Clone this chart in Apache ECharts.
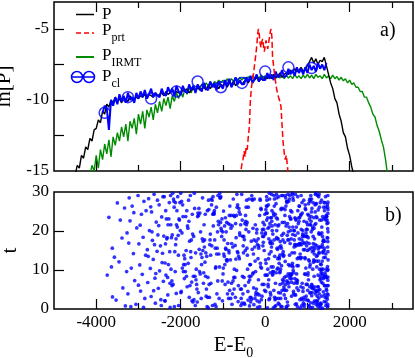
<!DOCTYPE html>
<html>
<head>
<meta charset="utf-8">
<title>ln[P] and t versus E-E0</title>
<script src="https://cdn.jsdelivr.net/npm/echarts@6.0.0/dist/echarts.min.js"></script>
<style>
  html, body { margin: 0; padding: 0; background: #ffffff; }
  #myChart { width: 415px; height: 358px; }
</style>
</head>
<body>
<div id="myChart"></div>
<script>
// energy grid (E-E0) shared by the P curves of panel a)
var energyGrid = [
  -4500,-4450,-4400,-4350,-4300,-4250,-4200,-4150,-4100,-4050,
  -4000,-3950,-3900,-3850,-3800,-3750,-3700,-3650,-3600,-3550,
  -3500,-3450,-3400,-3350,-3300,-3250,-3200,-3150,-3100,-3050,
  -3000,-2950,-2900,-2850,-2800,-2750,-2700,-2650,-2600,-2550,
  -2500,-2450,-2400,-2350,-2300,-2250,-2200,-2150,-2100,-2050,
  -2000,-1950,-1900,-1850,-1800,-1750,-1700,-1650,-1600,-1550,
  -1500,-1450,-1400,-1350,-1300,-1250,-1200,-1150,-1100,-1050,
  -1000,-950,-900,-850,-800,-750,-700,-650,-600,-550,
  -500,-450,-400,-350,-300,-250,-200,-150,-100,-50,
  0,50,100,150,200,250,300,350,400,450,
  500,550,600,650,700,750,800,850,900,950,
  1000,1050,1100,1150,1200,1250,1300,1350,1400,1450,
  1500,1550,1600,1650,1700,1750,1800,1850,1900,1950,
  2000,2050,2100,2150,2200,2250,2300,2350,2400,2450,
  2500,2550,2600,2650,2700,2750,2800,2850,2900
];

// ln[P] (black)
var lnP = [
  -15.3,-14.6,-14.8,-13.9,-14.1,-13.3,-13.5,-12.7,-12.9,-12.1,
  -12.0,-11.4,-11.6,-10.8,-11.0,-10.3,-10.5,-10.0,-10.2,-9.8,
  -10.1,-9.9,-10.2,-9.8,-10.0,-10.1,-9.7,-10.0,-9.9,-9.8,
  -9.9,-9.7,-9.8,-9.6,-9.9,-9.6,-9.7,-9.8,-9.5,-9.7,
  -9.6,-9.5,-9.7,-9.4,-9.6,-9.5,-9.3,-9.6,-9.4,-9.5,
  -9.5,-9.3,-9.4,-9.2,-9.5,-9.3,-9.2,-9.4,-9.1,-9.3,
  -9.2,-9.1,-9.3,-9.0,-9.2,-8.9,-9.1,-9.0,-9.2,-8.9,
  -9.0,-8.8,-9.1,-8.8,-8.9,-8.7,-9.0,-8.8,-8.7,-8.9,
  -8.7,-8.6,-8.8,-8.5,-8.7,-8.6,-8.4,-8.7,-8.5,-8.6,
  -8.4,-8.5,-8.3,-8.5,-8.2,-8.4,-8.3,-8.1,-8.4,-8.2,
  -8.1,-8.2,-7.9,-8.1,-7.8,-8.0,-7.9,-7.7,-8.0,-7.8,
  -7.6,-7.3,-7.0,-7.4,-7.1,-7.5,-7.2,-7.3,-7.0,-7.6,
  -8.2,-8.8,-9.2,-9.9,-10.2,-11.0,-11.5,-12.3,-12.6,-13.4,
  -13.9,-14.7,-15.3,null,null,null,null,null,null,null,
  null,null,null,null,null,null,null,null,null
];

// ln[P_IRMT] (green)
var lnIRMT = [
  null,null,null,null,null,null,null,-15.3,-14.6,-15.0,
  -13.9,-14.8,-13.5,-14.2,-13.1,-13.8,-12.8,-14.0,-12.6,-13.2,
  -12.3,-12.9,-11.9,-12.6,-11.7,-12.9,-11.5,-12.0,-11.3,-12.4,
  -11.0,-11.7,-10.8,-12.0,-10.7,-11.2,-10.5,-11.4,-10.3,-10.9,
  -10.1,-10.8,-9.9,-10.4,-9.8,-10.6,-9.7,-10.1,-9.5,-9.9,
  -9.4,-9.8,-9.2,-9.6,-9.1,-9.5,-9.0,-9.3,-8.9,-9.2,
  -8.9,-9.1,-8.8,-9.0,-8.7,-8.95,-8.7,-8.85,-8.6,-8.8,
  -8.6,-8.8,-8.5,-8.75,-8.5,-8.7,-8.45,-8.65,-8.4,-8.6,
  -8.4,-8.6,-8.35,-8.55,-8.3,-8.5,-8.3,-8.5,-8.25,-8.45,
  -8.3,-8.5,-8.25,-8.45,-8.3,-8.5,-8.25,-8.45,-8.3,-8.5,
  -8.25,-8.45,-8.3,-8.5,-8.2,-8.45,-8.3,-8.5,-8.25,-8.45,
  -8.2,-8.45,-8.25,-8.5,-8.2,-8.4,-8.3,-8.5,-8.2,-8.45,
  -8.3,-8.5,-8.25,-8.5,-8.35,-8.6,-8.4,-8.65,-8.5,-8.8,
  -8.6,-8.9,-8.8,-9.1,-9.1,-9.4,-9.4,-9.8,-9.8,-10.2,
  -10.5,-11.0,-11.2,-11.8,-12.2,-12.8,-13.3,-14.2,-15.3
];

// ln[P_cl] (blue)
var lnCl = [
  null,null,null,null,null,null,null,null,null,null,
  null,null,null,-10.9,-10.4,-10.6,-12.1,-10.0,-10.4,-9.8,
  -10.3,-9.6,-10.1,-9.7,-10.2,-9.5,-10.0,-9.8,-10.2,-9.5,
  -9.9,-9.4,-9.8,-9.3,-9.9,-9.6,-9.2,-9.8,-9.5,-9.7,
  -9.8,-9.2,-9.6,-9.7,-9.1,-9.5,-9.2,-9.7,-9.0,-9.4,
  -9.6,-9.0,-9.4,-9.5,-8.9,-9.3,-9.0,-9.5,-8.9,-9.2,
  -9.4,-8.8,-9.2,-9.3,-8.7,-9.1,-8.8,-9.3,-8.7,-9.0,
  -9.2,-8.6,-9.0,-8.5,-9.1,-8.8,-8.4,-8.9,-8.6,-8.9,
  -8.9,-8.4,-8.7,-8.3,-8.8,-8.5,-8.2,-8.7,-8.4,-8.6,
  -8.6,-8.1,-8.5,-8.2,-8.6,-8.0,-8.4,-8.3,-7.9,-8.4,
  -8.3,-7.8,-8.2,-7.9,-8.3,-7.7,-8.1,-7.8,-8.2,-7.7,
  -8.1,-7.5,-7.9,-7.6,-8.0,-7.4,-7.8,-7.5,-7.9,-7.4,
  null,null,null,null,null,null,null,null,null,null,
  null,null,null,null,null,null,null,null,null,null,
  null,null,null,null,null,null,null,null,null
];

// circle markers on P_cl
var clMarkE = [-3800, -3250, -2700, -2100, -1600, -1050, -550, 0, 550, 1100];
var clMarkLn = [-10.9, -9.8, -9.9, -9.4, -8.7, -9.1, -8.8, -8.0, -7.7, -7.75];

// ln[P_prt] (red, dashed)
var prtE = [
  -600,-575,-550,-525,-500,-475,-450,-425,-400,-375,-350,-325,-300,-275,-250,-225,-200,-175,
  -160,-140,-120,-100,-80,-60,-40,-20,0,20,40,60,80,100,120,140,160,
  175,200,225,250,275,300,325,350,375,400,425,450,475,500,525,550
];
var lnPrt = [
  -15.5,-15.0,-14.5,-14.2,-13.6,-14.0,-13.3,-13.5,-12.6,-11.9,-10.0,-9.1,-8.6,-8.1,-7.5,-6.9,-6.2,-5.3,
  -5.0,-5.4,-6.0,-6.3,-5.9,-5.7,-6.2,-6.6,-6.2,-5.8,-6.1,-6.4,-6.0,-5.6,-5.2,-5.0,-5.6,
  -7.0,-7.6,-8.3,-8.8,-9.3,-9.6,-9.9,-10.1,-10.5,-11.8,-13.0,-13.7,-14.2,-13.9,-14.6,-15.4
];

// panel b): events as (E-E0, t) pairs
var eventsFar = [
  -3740,8.7, -3700,23.5, -3640,10.8, -3620,15.6, -3615,3.1, -3570,13.3, -3530,2.3, -3500,27.2, -3460,12.1, -3430,22.8,
  -3390,18.2, -3370,5.4, -3330,25.9, -3310,0.8,
  -3280,9.6, -3270,19.5, -3250,3.9, -3230,16.9, -3220,28.5, -3200,22.6, -3180,0.6, -3170,10.5, -3150,26.4, -3120,14.2,
  -3110,24.7, -3090,7.3, -3060,1.2, -3040,20.8, -3010,29.1, -3000,6.1, -2990,16.7, -2970,11.3, -2960,21.5, -2950,4.6,
  -2930,24.3, -2910,8.9, -2890,18.4, -2880,0.4, -2870,27.6, -2850,2.7, -2830,13.8, -2820,25.2,
  -2790,15.2, -2780,6.8, -2770,13.5, -2760,28.3, -2740,20.1, -2720,10.4, -2710,26.2, -2700,3.2, -2690,24.9, -2680,19.8,
  -2670,17.6, -2650,12.7, -2640,4.7, -2630,29.4, -2620,16.5, -2610,7.9, -2600,1.5, -2590,9.1, -2580,22.3, -2560,14.8,
  -2550,27.9, -2540,19.0, -2530,5.3, -2520,21.4, -2510,26.7, -2500,9.8, -2480,16.2, -2470,2.4, -2460,0.9, -2450,23.6,
  -2440,11.9, -2430,14.3, -2420,28.8, -2410,7.1, -2400,18.7,
  -2390,28.8, -2380,2.1, -2370,11.8, -2365,2.1, -2360,16.7, -2355,25.2, -2350,8.7, -2340,23.1, -2330,18.0, -2320,18.3,
  -2310,8.1, -2305,3.6, -2300,21.6, -2290,11.4, -2280,23.1, -2270,27.3, -2260,14.7, -2255,6.6, -2250,0.4, -2240,29.1,
  -2235,21.6, -2230,10.2, -2220,18.3, -2210,7.2, -2205,6.0, -2200,19.0, -2190,29.7, -2180,6.3, -2170,28.2, -2160,27.6,
  -2155,26.1, -2150,0.6, -2140,14.7, -2130,9.6, -2125,27.3, -2120,16.5, -2110,18.0, -2105,4.0, -2100,21.6, -2090,25.2,
  -2080,21.0, -2070,28.8, -2060,18.9, -2055,13.8, -2050,0.9, -2040,23.1, -2030,22.8, -2020,27.3, -2010,20.1, -2000,29.7
];
var eventsMid = [
  -1995,4.2, -1987,4.5, -1979,27.6, -1970,19.5, -1962,10.5, -1955,26.7, -1946,23.7, -1937,9.6, -1930,11.4, -1921,13.8,
  -1913,7.8, -1905,12.9, -1896,11.4, -1889,9.6, -1880,23.7, -1872,15.0, -1864,8.4, -1855,25.2, -1847,5.7, -1839,21.3,
  -1830,20.7, -1822,11.7, -1814,27.9, -1805,22.5, -1797,3.0, -1789,17.4, -1780,6.0, -1772,29.1, -1764,14.7, -1756,13.2,
  -1748,17.7, -1740,6.9, -1733,2.1, -1725,24.3, -1717,19.2, -1709,1.8, -1701,8.4, -1694,18.6, -1686,2.4, -1678,29.7,
  -1670,25.8, -1662,8.4, -1655,0.9, -1647,14.4, -1639,7.5, -1631,10.2, -1623,6.3, -1616,5.1, -1608,1.8, -1600,23.7,
  -1592,24.6, -1584,4.2, -1577,24.0, -1569,25.8, -1561,15.3, -1553,9.6, -1545,24.6, -1538,9.0, -1530,19.8, -1522,14.1,
  -1514,2.7, -1506,11.4,
  -1497,13.2, -1490,18.0, -1483,28.5, -1476,15.0, -1469,17.4, -1462,6.6, -1455,9.3, -1447,21.6, -1440,15.9, -1433,17.7,
  -1426,12.0, -1419,24.3, -1412,8.4, -1405,14.4, -1398,3.3, -1391,5.1, -1383,13.5, -1376,0.6, -1369,25.2, -1362,3.0,
  -1355,8.1, -1348,0.3, -1341,27.9, -1334,25.5, -1327,6.3, -1320,3.0, -1312,16.5, -1305,17.7, -1298,19.2, -1291,13.8,
  -1284,6.6, -1277,28.2, -1270,26.7, -1263,16.2, -1256,27.9,
  -1248,0.9, -1241,24.3, -1235,28.8, -1228,21.3, -1222,24.6, -1215,24.3, -1208,24.6, -1202,25.2, -1195,17.7, -1189,1.2,
  -1182,15.6, -1176,10.5, -1169,10.8, -1162,0.6, -1156,26.1, -1149,14.1, -1143,3.9, -1136,15.6, -1129,19.8, -1123,7.2,
  -1116,29.1, -1110,22.5, -1103,21.6, -1096,14.1, -1090,2.7, -1083,10.8, -1077,29.7, -1070,28.5, -1063,28.5, -1057,22.2,
  -1050,28.8, -1044,20.7, -1037,20.1, -1030,18.6, -1024,23.1, -1017,7.2, -1011,2.1, -1004,19.8,
  -998,9.0, -992,10.5, -986,25.1, -980,14.1, -973,17.7, -967,13.5, -961,21.3, -955,11.4, -948,6.3, -942,23.4,
  -936,15.6, -930,15.3, -923,19.8, -917,12.6, -911,22.2, -905,12.3, -898,12.6, -892,3.9, -886,16.8, -880,6.9,
  -873,21.9, -867,2.7, -861,15.0, -855,14.4, -848,24.0, -842,4.8, -836,26.4, -830,21.6, -823,12.6, -817,2.7,
  -811,20.7, -805,24.0, -798,6.6, -792,16.8, -786,1.2, -780,21.3, -773,3.9, -767,15.9, -761,7.2, -755,28.2,
  -748,24.0, -742,8.1, -736,5.1, -730,10.2, -724,23.7, -718,8.1, -712,16.3, -706,3.0, -700,21.9, -694,12.8,
  -688,18.3, -682,24.0, -676,9.9, -670,29.4, -664,26.1, -658,14.7, -652,26.7, -646,14.4, -640,1.9, -634,6.0,
  -628,13.5, -622,25.8, -616,24.9, -610,12.9, -604,19.5, -598,18.9, -592,24.3, -586,5.1, -580,21.6, -574,0.9,
  -568,2.7, -562,5.1, -556,29.4, -550,1.5, -544,22.8, -538,8.4, -532,18.6, -526,3.9, -520,16.2, -514,14.4,
  -508,18.6, -502,8.1,
  -498,1.5, -493,17.8, -487,1.2, -482,21.9, -476,6.0, -471,15.0, -465,24.0, -460,22.5, -454,20.4, -449,26.1,
  -443,21.6, -438,27.9, -432,15.6, -427,22.2, -421,13.8, -416,10.2, -410,4.5, -405,2.3, -399,26.1, -394,6.9,
  -388,19.8, -383,28.2, -377,8.4, -372,0.8, -366,7.5, -361,11.4, -355,3.0, -350,11.4, -344,1.8, -339,8.4,
  -333,2.9, -328,17.4, -322,2.5, -317,29.1, -311,28.2, -306,15.3, -300,27.9, -295,9.0, -289,20.7, -284,9.3,
  -278,14.1, -273,5.4, -267,1.1, -262,17.7, -256,28.2,
  -248,15.9, -243,2.7, -238,12.3, -233,21.6, -227,9.6, -222,3.6, -217,4.2, -212,17.4, -206,5.1, -201,19.5,
  -196,20.4, -191,2.1, -185,16.5, -180,0.4, -175,3.9, -170,12.9, -164,18.0, -159,7.5, -154,15.6, -149,16.2,
  -143,3.6, -138,1.8, -133,24.0, -128,0.6, -122,28.2, -117,27.9, -112,11.7, -107,10.8,
  -101,25.8, -96,25.5, -91,2.4, -86,10.5, -80,19.5, -75,3.3, -70,6.3, -65,20.4, -59,18.6, -54,16.2,
  -49,22.2, -44,17.1, -38,18.6, -33,20.4, -28,6.3, -23,15.0, -17,21.6, -12,4.8, -7,24.3, -2,8.7
];
var eventsNear = [
  2,19.2, 6,19.5, 9,12.6, 13,4.5, 16,25.5, 20,11.7, 23,8.7, 27,24.6, 30,26.4, 34,28.8,
  37,22.8, 41,27.9, 44,26.4, 48,24.6, 51,8.7, 55,0.3, 58,23.4, 62,10.2, 65,20.7, 69,6.3,
  72,5.7, 76,26.7, 79,12.9, 83,7.5, 86,18.0, 90,2.4, 93,21.0, 97,14.1, 100,29.7, 104,28.2,
  107,2.7, 111,21.9, 114,17.1, 118,9.3, 121,4.2, 125,16.8, 128,23.4, 132,3.6, 135,17.4, 139,14.7,
  142,10.8, 146,23.4, 149,15.9, 153,29.4, 156,22.5, 160,25.2, 163,21.3, 167,20.1, 170,16.8, 174,8.7,
  177,9.6, 181,19.2, 184,9.0, 188,10.8, 191,0.3, 195,24.6, 198,9.6, 202,24.0, 205,4.8, 209,29.1,
  212,17.7, 216,26.4, 219,28.2, 223,3.0, 226,13.5, 230,0.6, 233,2.4, 237,21.6, 240,24.3, 244,6.6,
  251,0.9, 254,2.7, 257,27.0, 261,9.3, 264,23.4, 267,29.4, 271,18.3, 274,20.1, 277,28.5, 281,15.6,
  284,10.2, 287,18.0, 291,23.1, 294,15.3, 297,12.9, 301,10.5, 304,21.3, 307,18.0, 311,1.5, 314,2.7,
  317,4.2, 321,28.8, 324,21.6, 327,13.2, 331,11.7, 334,1.2, 337,12.9, 341,15.9, 344,9.3, 347,13.8,
  351,6.3, 354,9.6, 357,17.3, 361,4.1, 364,10.2, 367,2.7, 371,16.2, 374,0.6, 377,25.5, 381,25.8,
  384,15.6, 387,11.1, 391,29.1, 394,18.9, 397,0.6, 401,4.8, 404,22.2, 407,14.1, 411,7.5, 414,6.6,
  417,29.1, 421,17.7, 424,25.8, 427,14.7, 431,13.5, 434,19.4, 437,7.2, 441,13.8, 444,5.7, 447,5.1,
  451,3.6, 454,8.1, 457,22.2, 461,17.1, 464,4.8, 467,24.0, 471,25.5, 474,12.2, 477,29.1, 481,2.7,
  484,28.5, 487,6.3, 491,26.4, 494,21.3, 497,8.4,
  501,0.6, 504,0.3, 507,4.8, 510,27.6, 513,7.2, 516,27.3, 520,27.6, 523,18.9, 526,1.8, 529,21.9,
  532,6.9, 535,17.7, 538,0.9, 541,29.4, 545,9.0, 548,19.8, 551,11.4, 554,6.6, 557,27.6, 560,17.7,
  563,5.7, 566,21.0, 570,8.4, 573,28.2, 576,13.8, 579,23.7, 582,11.1, 585,29.1, 588,7.8, 591,16.8,
  595,9.0, 598,23.1, 601,20.1, 604,25.2, 607,8.7, 610,23.1, 613,8.7, 616,18.0, 620,6.9, 623,7.8,
  626,3.3, 629,9.0, 632,24.9, 635,14.4, 638,11.1, 641,29.7, 645,11.7, 648,29.4, 651,19.1, 654,21.0,
  657,28.5, 660,10.8, 663,9.9, 666,27.9, 670,4.5, 673,3.9, 676,9.3, 679,20.1, 682,6.6, 685,15.9,
  688,17.7, 691,20.1, 695,14.4, 698,16.5, 701,7.8, 704,23.4, 707,3.6, 710,18.9, 713,1.2, 716,29.4,
  720,3.6, 723,23.1, 726,16.5, 729,22.8, 732,16.2, 735,6.9, 738,21.0, 741,1.3, 745,9.0, 748,7.5,
  751,5.4, 754,11.1, 757,6.6, 760,12.9, 763,0.6, 766,7.2, 770,28.8, 773,25.2, 776,19.5, 779,16.5,
  782,11.1, 785,21.9, 788,4.8, 791,13.2, 795,23.4, 798,16.5, 801,22.5, 804,26.4, 807,18.0, 810,26.4,
  813,16.8, 816,23.4, 820,16.5, 823,2.4, 826,16.8, 829,14.1, 832,13.2, 835,0.3, 838,12.9, 841,24.0,
  845,5.7, 848,24.3, 851,29.1, 854,20.4, 857,16.5, 860,2.7, 863,13.2, 866,0.9, 870,17.7, 873,27.3,
  876,6.6, 879,24.6, 882,18.6, 885,19.2, 888,2.4, 891,20.1, 895,4.5, 898,5.4, 901,17.1, 904,1.5,
  907,15.2, 910,18.9, 913,27.9, 916,3.0, 920,22.5, 923,0.6, 926,1.2, 929,18.6, 932,16.8, 935,9.0,
  938,15.2, 941,13.2, 945,12.9, 948,26.7, 951,25.8, 954,8.9, 957,25.5, 960,2.4, 963,10.5, 966,19.5,
  970,3.3, 973,6.3, 976,20.4, 979,18.6, 982,16.2, 985,22.2, 988,17.1, 991,18.6, 995,20.4, 998,6.3,
  1001,15.0, 1004,21.6, 1007,4.8, 1010,24.3, 1013,8.7, 1016,9.3, 1019,18.3, 1022,2.1, 1025,7.5, 1028,27.0,
  1030,12.6, 1033,24.0, 1036,0.9, 1039,15.3, 1042,16.8, 1045,12.3, 1048,23.1, 1051,27.9, 1054,5.7, 1057,10.8,
  1060,28.2, 1063,21.6, 1066,11.4, 1069,27.6, 1072,0.3, 1075,4.2, 1077,21.6, 1080,29.1, 1083,15.6, 1086,22.5,
  1089,19.8, 1092,23.7, 1095,24.9, 1098,28.2, 1101,6.3, 1104,5.4, 1107,25.8, 1110,6.0, 1113,4.2, 1116,14.7,
  1119,20.4, 1122,5.4, 1125,21.0, 1127,10.2, 1130,15.9, 1133,27.3, 1136,18.6, 1139,16.8, 1142,12.0, 1145,1.5,
  1148,15.0, 1151,12.6, 1154,23.4, 1157,20.7, 1160,8.4, 1163,14.1, 1166,12.3, 1169,18.0, 1172,5.7, 1174,21.6,
  1177,15.6, 1180,26.7, 1183,24.9, 1186,16.5, 1189,29.4, 1192,4.8, 1195,27.0, 1198,21.9, 1201,29.7, 1204,2.1,
  1207,4.5, 1210,23.7, 1213,27.0, 1216,13.5, 1219,12.3, 1221,10.8, 1224,16.2, 1227,23.4, 1230,1.8, 1233,3.3,
  1236,13.8, 1239,2.1, 1242,29.1, 1245,5.7, 1248,1.2
];
var eventsEdge = [
  1251,8.7, 1254,25.4, 1256,5.7, 1259,15.4, 1261,4.8, 1264,12.3, 1266,28.8, 1269,14.4, 1272,19.5, 1274,19.2,
  1277,29.4, 1279,3.9, 1282,15.9, 1284,26.1, 1287,14.4, 1289,10.2, 1292,22.8, 1295,0.9, 1297,7.5, 1300,8.4,
  1302,15.9, 1305,27.3, 1307,19.2, 1310,0.3, 1312,11.5, 1315,1.5, 1318,7.8, 1320,1.2, 1323,9.3, 1325,9.9,
  1328,11.4, 1330,6.9, 1333,22.8, 1335,27.9, 1338,10.2, 1341,21.0, 1343,19.5, 1346,9.1, 1348,15.9, 1351,12.3,
  1353,16.5, 1356,8.7, 1358,18.6, 1361,23.7, 1364,6.6, 1366,14.4, 1369,14.7, 1371,10.2, 1374,17.4, 1376,7.8,
  1379,17.7, 1381,17.4, 1384,26.1, 1387,13.2, 1389,23.1, 1392,8.1, 1394,27.3, 1397,15.0, 1399,15.6, 1402,6.0,
  1404,25.2, 1407,3.6, 1410,8.4, 1412,17.4, 1415,27.3, 1417,9.3, 1420,6.0, 1422,23.4, 1425,13.2, 1427,28.8,
  1430,8.7, 1433,26.1, 1435,14.1, 1438,22.8, 1440,1.8, 1443,24.0, 1445,8.1, 1448,5.1, 1450,10.2, 1453,23.7,
  1456,8.1, 1458,23.7, 1461,3.0, 1463,21.9, 1466,22.8, 1468,18.3, 1471,6.0, 1473,9.9, 1476,0.6, 1478,26.1,
  1012,2.3, 1035,0.8, 1058,4.1, 1079,1.6, 1102,3.4, 1121,0.4, 1144,5.2, 1166,2.0, 1187,3.9, 1209,1.1,
  1230,4.6, 1252,0.6, 1270,2.8, 1293,5.0, 1313,1.4, 1336,3.3, 1355,0.2, 1378,4.4, 1398,1.9, 1419,3.0,
  1437,0.9, 1455,4.8, 1468,2.5, 1482,1.2, 1490,3.6,
  1485,27.4, 1487,22.1, 1484,17.3, 1489,12.6, 1486,8.2, 1483,29.1, 1488,19.8, 1485,14.7, 1490,6.0, 1484,24.5,
  1476,10.9, 1480,20.6, 1479,15.9, 1474,26.8, 1482,7.4, 1472,3.9, 1486,25.5, 1488,10.1, 1481,18.2, 1477,0.7
];

// axis ticks and labels
var xTicksLong = [-4000, -2000, 0, 2000];
var xTicksShort = [-3000, -1000, 1000, 3000];
var xLabels = [-4000, -2000, 0, 2000];
var lnTicks = [-12.5, -10, -7.5, -5];
var lnLabels = [-15, -10, -5];
var tTicks = [10, 20];
var tLabels = [0, 10, 20, 30];

var serif = '"Liberation Serif", "DejaVu Serif", serif';
var black = '#000000';
var blue = '#0000ff';
var red = '#ff0000';
var green = '#008c00';

function curve(xs, ys) {
  var out = [];
  for (var i = 0; i < xs.length; i++) {
    if (ys[i] !== null) out.push([xs[i], ys[i]]);
  }
  return out;
}
function pairUp(flat) {
  var out = [];
  for (var i = 0; i < flat.length; i += 2) out.push([flat[i], flat[i + 1]]);
  return out;
}
var events = pairUp(eventsFar).concat(pairUp(eventsMid), pairUp(eventsNear), pairUp(eventsEdge));

function plainNumber(v) { return String(v); }

function xAxisFor(gridIndex, position, ticks, tickLength, labels) {
  return {
    type: 'value', gridIndex: gridIndex, position: position,
    min: -5000, max: 3500,
    axisLine: { show: false, onZero: false },
    axisTick: { show: true, inside: true, length: tickLength, customValues: ticks,
      lineStyle: { color: black, width: 1.2 } },
    axisLabel: labels
      ? { show: true, customValues: labels, formatter: plainNumber, margin: 5, color: black, fontFamily: serif, fontSize: 17 }
      : { show: false },
    splitLine: { show: false }
  };
}
function yAxisFor(gridIndex, min, max, ticks, labels, name, gap) {
  return {
    type: 'value', gridIndex: gridIndex, position: 'left',
    min: min, max: max,
    axisLine: { show: false, onZero: false },
    axisTick: { show: true, inside: true, length: 10, customValues: ticks,
      lineStyle: { color: black, width: 1.2 } },
    axisLabel: { show: true, customValues: labels, formatter: plainNumber, margin: 5, color: black, fontFamily: serif, fontSize: 17 },
    splitLine: { show: false },
    name: name, nameLocation: 'middle', nameGap: gap,
    nameTextStyle: { color: black, fontFamily: serif, fontSize: 21 }
  };
}

var subRich = {
  m: { fontFamily: serif, fontSize: 17, color: black, lineHeight: 26 },
  s: { fontFamily: serif, fontSize: 12, color: black, lineHeight: 12, padding: [14, 0, 0, 0], verticalAlign: 'bottom' }
};
function legendText(y, text) {
  return { type: 'text', x: 102, y: y, silent: true,
    style: { text: text, rich: subRich, verticalAlign: 'middle', fill: black, fontFamily: serif, fontSize: 17 } };
}

var xName = xAxisFor(1, 'bottom', xTicksLong, 10, xLabels);
xName.name = '{m|E-E}{s|0}';
xName.nameLocation = 'middle';
xName.nameGap = 20;
xName.nameTextStyle = {
  color: black, fontFamily: serif, fontSize: 21,
  rich: {
    m: { fontFamily: serif, fontSize: 21, color: black, lineHeight: 28 },
    s: { fontFamily: serif, fontSize: 14, color: black, lineHeight: 14, padding: [14, 0, 0, 0], verticalAlign: 'bottom' }
  }
};

var option = {
  animation: false,
  backgroundColor: '#ffffff',
  grid: [
    { left: 54, top: 2, width: 359, height: 169, show: true, borderColor: black, borderWidth: 1.5,
      backgroundColor: 'transparent', outerBoundsMode: 'none' },
    { left: 54, top: 192, width: 359, height: 117, show: true, borderColor: black, borderWidth: 1.5,
      backgroundColor: 'transparent', outerBoundsMode: 'none' }
  ],
  xAxis: [
    xAxisFor(0, 'bottom', xTicksLong, 10, null),
    xAxisFor(0, 'bottom', xTicksShort, 6, null),
    xAxisFor(0, 'top', xTicksLong, 10, null),
    xAxisFor(0, 'top', xTicksShort, 6, null),
    xName,
    xAxisFor(1, 'bottom', xTicksShort, 6, null)
  ],
  yAxis: [
    yAxisFor(0, -15, -3.1, lnTicks, lnLabels, 'ln[P]', 25),
    yAxisFor(1, 0, 30, tTicks, tLabels, 't', 31)
  ],
  graphic: [
    { type: 'text', x: 380, y: 31, silent: true,
      style: { text: 'a)', fontFamily: serif, fontSize: 20, fill: black, verticalAlign: 'middle' } },
    { type: 'text', x: 385, y: 216, silent: true,
      style: { text: 'b)', fontFamily: serif, fontSize: 20, fill: black, verticalAlign: 'middle' } },
    { type: 'line', silent: true, shape: { x1: 76, y1: 14.5, x2: 94, y2: 14.5 }, style: { stroke: black, lineWidth: 1.5 } },
    legendText(15, '{m|P}'),
    { type: 'line', silent: true, shape: { x1: 76, y1: 33, x2: 94, y2: 33 }, style: { stroke: red, lineWidth: 1.5, lineDash: [5, 3] } },
    legendText(31, '{m|P}{s|prt}'),
    { type: 'line', silent: true, shape: { x1: 76, y1: 57, x2: 94, y2: 57 }, style: { stroke: green, lineWidth: 2 } },
    legendText(56, '{m|P}{s|IRMT}'),
    { type: 'line', silent: true, shape: { x1: 71, y1: 77, x2: 95, y2: 77 }, style: { stroke: blue, lineWidth: 1.5 } },
    { type: 'circle', silent: true, shape: { cx: 77, cy: 77, r: 5.5 }, style: { fill: 'none', stroke: blue, lineWidth: 1.5 } },
    { type: 'circle', silent: true, shape: { cx: 89, cy: 77, r: 5.5 }, style: { fill: 'none', stroke: blue, lineWidth: 1.5 } },
    legendText(77, '{m|P}{s|cl}')
  ],
  series: [
    {
      name: 'P_IRMT', type: 'line', xAxisIndex: 0, yAxisIndex: 0,
      data: curve(energyGrid, lnIRMT), symbol: 'none', z: 2,
      lineStyle: { color: green, width: 1.4 }, itemStyle: { color: green }
    },
    {
      name: 'P', type: 'line', xAxisIndex: 0, yAxisIndex: 0,
      data: curve(energyGrid, lnP), symbol: 'none', z: 3,
      lineStyle: { color: black, width: 1.4 }, itemStyle: { color: black }
    },
    {
      name: 'P_cl', type: 'line', xAxisIndex: 0, yAxisIndex: 0,
      data: curve(energyGrid, lnCl), symbol: 'none', z: 4,
      lineStyle: { color: blue, width: 2 }, itemStyle: { color: blue }
    },
    {
      name: 'P_cl markers', type: 'scatter', xAxisIndex: 0, yAxisIndex: 0,
      data: curve(clMarkE, clMarkLn), symbol: 'circle', symbolSize: 11, z: 5,
      itemStyle: { color: 'rgba(0,0,0,0)', borderColor: blue, borderWidth: 1.5 }
    },
    {
      name: 'P_prt', type: 'line', xAxisIndex: 0, yAxisIndex: 0,
      data: curve(prtE, lnPrt), symbol: 'none', z: 6,
      lineStyle: { color: red, width: 1.5, type: [6, 3] }, itemStyle: { color: red }
    },
    {
      name: 't', type: 'scatter', xAxisIndex: 4, yAxisIndex: 1,
      data: events, symbol: 'circle', symbolSize: 3.7, z: 2,
      itemStyle: { color: blue }
    }
  ]
};

var chartDom = document.getElementById('myChart');
var myChart = echarts.init(chartDom, null, { renderer: 'canvas' });
option && myChart.setOption(option);
</script>
</body>
</html>
